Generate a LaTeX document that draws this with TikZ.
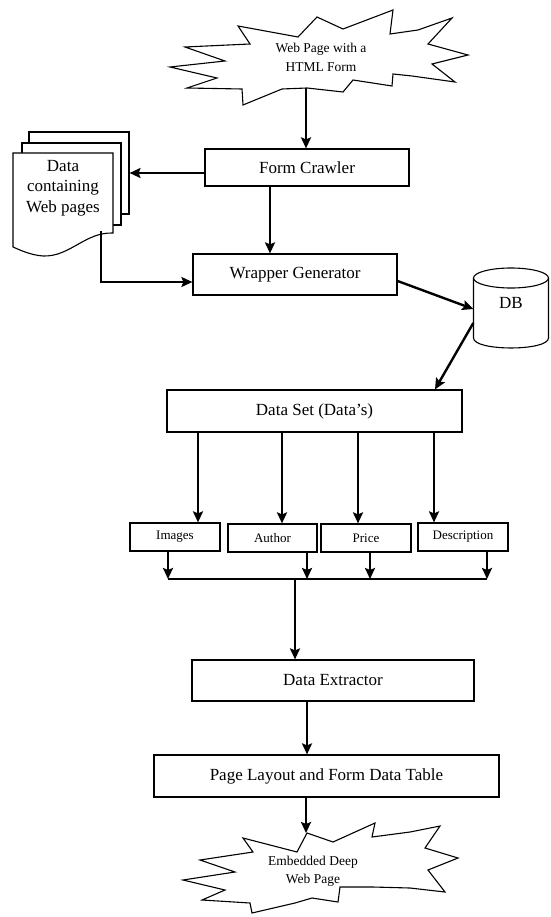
\documentclass[tikz,border=0pt]{standalone}
\usepackage{fontspec}
\setmainfont{Liberation Serif}
\usetikzlibrary{arrows.meta}
\begin{document}
\begin{tikzpicture}[x=1pt,y=-1pt,
  box/.style={draw, line width=1.2pt, fill=white, inner sep=0pt, font=\fontsize{17}{20}\selectfont},
  sbox/.style={box, font=\fontsize{13}{15}\selectfont},
  arr/.style={line width=2.4pt, -{Stealth[length=11pt,width=10pt,inset=2pt]}},
  conn/.style={line width=1.8pt},
  outline/.style={draw, line width=1.1pt, fill=white, line join=miter},
  txt/.style={align=center, inner sep=0pt},
]
\useasboundingbox (0,0) rectangle (550,917);

% ---- top star
\draw[outline] (170,67) -- (217,78) -- (187,88) -- (242,89) -- (243,105) -- (282,89) -- (307,88) -- (343,92) -- (353,80) -- (392,86) -- (393,74) -- (412,76) -- (455,82) -- (432,64) -- (468,55) -- (428,44) -- (452,18) -- (418,30) -- (390,34) -- (393,10) -- (343,29) -- (317,17) -- (298,37) -- (238,26) -- (250,44) -- (185,47) -- (225,61) -- cycle;
\node[txt, font=\fontsize{13.5}{19}\selectfont] (st1) at (321,57) {Web Page with a\\HTML Form};

% ---- documents stack
\node[outline, minimum width=100pt, minimum height=82pt] (doc3) at (79,173) {};
\node[outline, minimum width=99pt, minimum height=82pt] (doc2) at (71.5,184) {};
\draw[outline] (13,153) -- (113,153) -- (113,233) .. controls (85,232) and (70,257) .. (43,256) .. controls (30,255) and (20,250) .. (13,247) -- cycle;
\node[txt, font=\fontsize{17}{20.5}\selectfont] (doc1) at (63,188) {Data\\containing\\Web pages};

% ---- boxes
\node[box, minimum width=204pt, minimum height=37pt] (fc) at (307,167.5) {Form Crawler};
\node[box, minimum width=204pt, minimum height=41pt] (wg) at (295,274.5) {Wrapper Generator};
\node[box, minimum width=295pt, minimum height=42pt] (ds) at (314.5,411) {Data Set (Data’s)};
\node[sbox, minimum width=90pt, minimum height=28pt] (img) at (175,537) {Images};
\node[sbox, minimum width=89pt, minimum height=28pt] (aut) at (272.5,538) {Author};
\node[sbox, minimum width=90pt, minimum height=28pt] (pri) at (366,538) {Price};
\node[sbox, minimum width=90pt, minimum height=28pt] (des) at (463,537) {Description};
\node[box, minimum width=282pt, minimum height=41pt] (de) at (333,680.5) {Data Extractor};
\node[box, minimum width=345pt, minimum height=42pt] (pl) at (326.5,776) {Page Layout and Form Data Table};

% ---- DB cylinder
\draw[outline] (473.5,278) -- (473.5,338) .. controls (473.5,351.3) and (548.5,351.3) .. (548.5,338) -- (548.5,278);
\draw[line width=1.1pt, fill=white] (511,278) ellipse [x radius=37.5pt, y radius=10pt];
\node[txt, font=\fontsize{17}{20}\selectfont, minimum width=75pt] (db) at (511,303) {DB};

% ---- bottom star
\draw[outline] (243,838) -- (297,852) -- (307,833) -- (333,842) -- (375,823) -- (372,837) -- (410,832) -- (440,826) -- (425,848) -- (458,858) -- (428,870) -- (445,892) -- (410,888) -- (373,887) -- (340,887) -- (338,902) -- (312,898) -- (295,903) -- (252,913) -- (250,903) -- (202,900) -- (225,890) -- (183,880) -- (235,872) -- (200,860) -- (253,852) -- cycle;
\node[txt, font=\fontsize{13.5}{18}\selectfont] (st2) at (313,871) {Embedded Deep\\Web Page};

% ---- connectors
\coordinate (st1b) at (306,88);
\draw[arr] (st1b) -- (st1b |- fc.north);
\draw[arr] (fc.west |- doc3.east) -- (doc3.east);
\coordinate (fcs) at ([xshift=-37pt]fc.south);
\draw[arr] (fcs) -- (fcs |- wg.north);
\coordinate (dout) at (101,231);
\coordinate (wgin) at ([yshift=-7.5pt]wg.west);
\draw[arr, line width=2pt] (dout) |- (wgin);
\draw[arr] ([yshift=-6.5pt]wg.east) -- ([yshift=-6pt]db.west);
\draw[arr] ([yshift=-20pt]db.west) -- ([xshift=120.5pt]ds.north);

\coordinate (i1) at ([xshift=23pt]img.north);
\coordinate (i2) at ([xshift=9.5pt]aut.north);
\coordinate (i3) at ([xshift=-8pt]pri.north);
\coordinate (i4) at ([xshift=-29pt]des.north);
\foreach \c in {i1,i2,i3,i4} \draw[arr] (\c |- ds.south) -- (\c);

\coordinate (cl) at (168,579);
\coordinate (cr) at (487,579);
\draw[conn] (cl) -- (cr);
\coordinate (o1) at ([xshift=-7pt]img.south);
\coordinate (o2) at ([xshift=34.5pt]aut.south);
\coordinate (o3) at ([xshift=4pt]pri.south);
\coordinate (o4) at ([xshift=24pt]des.south);
\foreach \c in {o1,o2,o3,o4} \draw[arr] (\c) -- (\c |- cl);

\coordinate (cm) at (295,578);
\draw[arr] (cm) -- (cm |- de.north);
\coordinate (des1) at ([xshift=-26pt]de.south);
\draw[arr] (des1) -- (des1 |- pl.north);
\coordinate (pls) at ([xshift=-20.5pt]pl.south);
\coordinate (st2t) at (306,833);
\draw[arr] (pls) -- (st2t);
\end{tikzpicture}
\end{document}
